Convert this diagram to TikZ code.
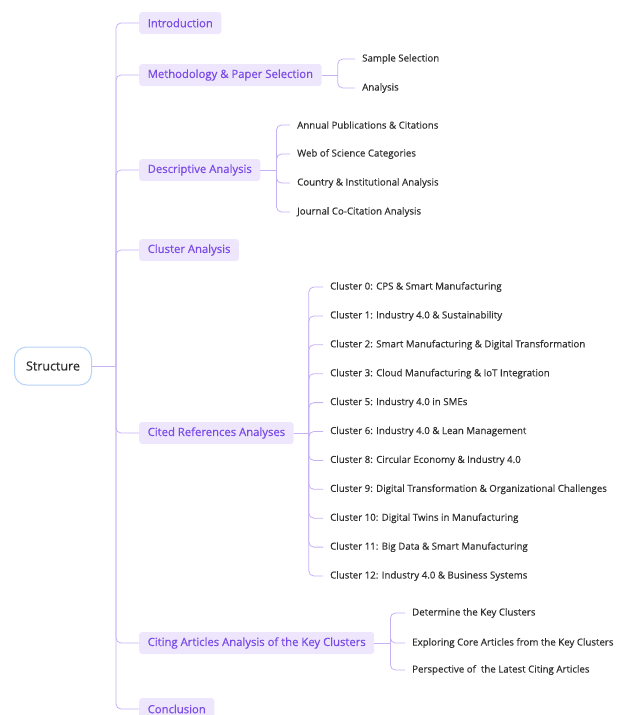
\documentclass[tikz,border=0pt]{standalone}
\usepackage{fontspec}
\setmainfont{Open Sans}
\newfontfamily\topicfont{Open Sans}[FakeBold=0.5]
\newfontfamily\leaffont{Open Sans}[FakeBold=0.25]
\tikzset{
    link/.style={draw=linkpurple, line width=0.8pt, rounded corners=5pt},
    rootbox/.style={
        draw=rootblue,
        line width=1pt,
        fill=white,
        rounded corners=12pt,
        minimum width=77pt,
        minimum height=38pt,
        font=\leaffont\fontsize{12.5}{14}\selectfont,
        text=darktext,
    },
    topicbox/.style={
        fill=topicfill,
        rounded corners=3pt,
        anchor=west,
        inner xsep=8.5pt,
        minimum height=22pt,
        font=\topicfont\fontsize{11.3}{13}\selectfont,
        text=topictext,
    },
    leaf/.style={
        anchor=west,
        inner xsep=7pt,
        font=\leaffont\fontsize{9.7}{11}\selectfont,
        text=darktext,
    },
}
\definecolor{linkpurple}{HTML}{C6B1F4}
\definecolor{rootblue}{HTML}{B7D3F7}
\definecolor{topicfill}{HTML}{EEE6FC}
\definecolor{topictext}{HTML}{7A4BE6}
\definecolor{darktext}{HTML}{2E2E2E}
\begin{document}
\begin{tikzpicture}[x=1pt, y=-1pt]
    \useasboundingbox (0,0) rectangle (627,715);

    % root
    \node[rootbox] (structure) at (53,366) {Structure};
    \coordinate (trunk) at (116,366);
    \draw[link] (structure.east) -- (trunk);

    % main topics
    \node[topicbox] (intro)  at (139,23)  {Introduction};
    \node[topicbox] (meth)   at (139,75)  {Methodology \& Paper Selection};
    \node[topicbox] (desc)   at (139,170) {Descriptive Analysis};
    \node[topicbox] (clus)   at (139,250) {Cluster Analysis};
    \node[topicbox] (cited)  at (139,433) {Cited References Analyses};
    \node[topicbox] (citing) at (139,643) {Citing Articles Analysis of the Key Clusters};
    \node[topicbox] (concl)  at (139,709) {Conclusion};

    \foreach \n in {intro,meth,desc,clus,cited,citing,concl}
        \draw[link] (trunk) |- (\n.west);

    % methodology
    \node[leaf] (sample)   at (355,59) {Sample Selection};
    \node[leaf] (analysis) at (355,88) {Analysis};
    \draw[link] (meth.east) -- ++(16,0) coordinate (mfork);
    \foreach \n in {sample,analysis}
        \draw[link] (mfork) |- (\n.west);

    % descriptive
    \node[leaf] (annual)  at (290,125) {Annual Publications \& Citations};
    \node[leaf] (wos)     at (290,154) {Web of Science Categories};
    \node[leaf] (country) at (290,183) {Country \& Institutional Analysis};
    \node[leaf] (journal) at (290,212) {Journal Co-Citation Analysis};
    \draw[link] (desc.east) -- ++(16,0) coordinate (dfork);
    \foreach \n in {annual,wos,country,journal}
        \draw[link] (dfork) |- (\n.west);

    % cited references
    \foreach \t [count=\i] in {
        Cluster 0: CPS \& Smart Manufacturing,
        Cluster 1: Industry 4.0 \& Sustainability,
        Cluster 2: Smart Manufacturing \& Digital Transformation,
        Cluster 3: Cloud Manufacturing \& IoT Integration,
        Cluster 5: Industry 4.0 in SMEs,
        Cluster 6: Industry 4.0 \& Lean Management,
        Cluster 8: Circular Economy \& Industry 4.0,
        Cluster 9: Digital Transformation \& Organizational Challenges,
        Cluster 10: Digital Twins in Manufacturing,
        Cluster 11: Big Data \& Smart Manufacturing,
        Cluster 12: Industry 4.0 \& Business Systems}
        \node[leaf] (c\i) at (323,{287+28.9*(\i-1)}) {\t};
    \draw[link] (cited.east) -- ++(15,0) coordinate (cfork);
    \foreach \i in {1,...,11}
        \draw[link] (cfork) |- (c\i.west);

    % citing articles
    \node[leaf] (keyclus) at (405,613) {Determine the Key Clusters};
    \node[leaf] (core)    at (405,643) {Exploring Core Articles from the Key Clusters};
    \node[leaf] (latest)  at (405,670) {Perspective of ~the Latest Citing Articles};
    \draw[link] (citing.east) -- ++(16,0) coordinate (kfork);
    \foreach \n in {keyclus,core,latest}
        \draw[link] (kfork) |- (\n.west);
\end{tikzpicture}
\end{document}
